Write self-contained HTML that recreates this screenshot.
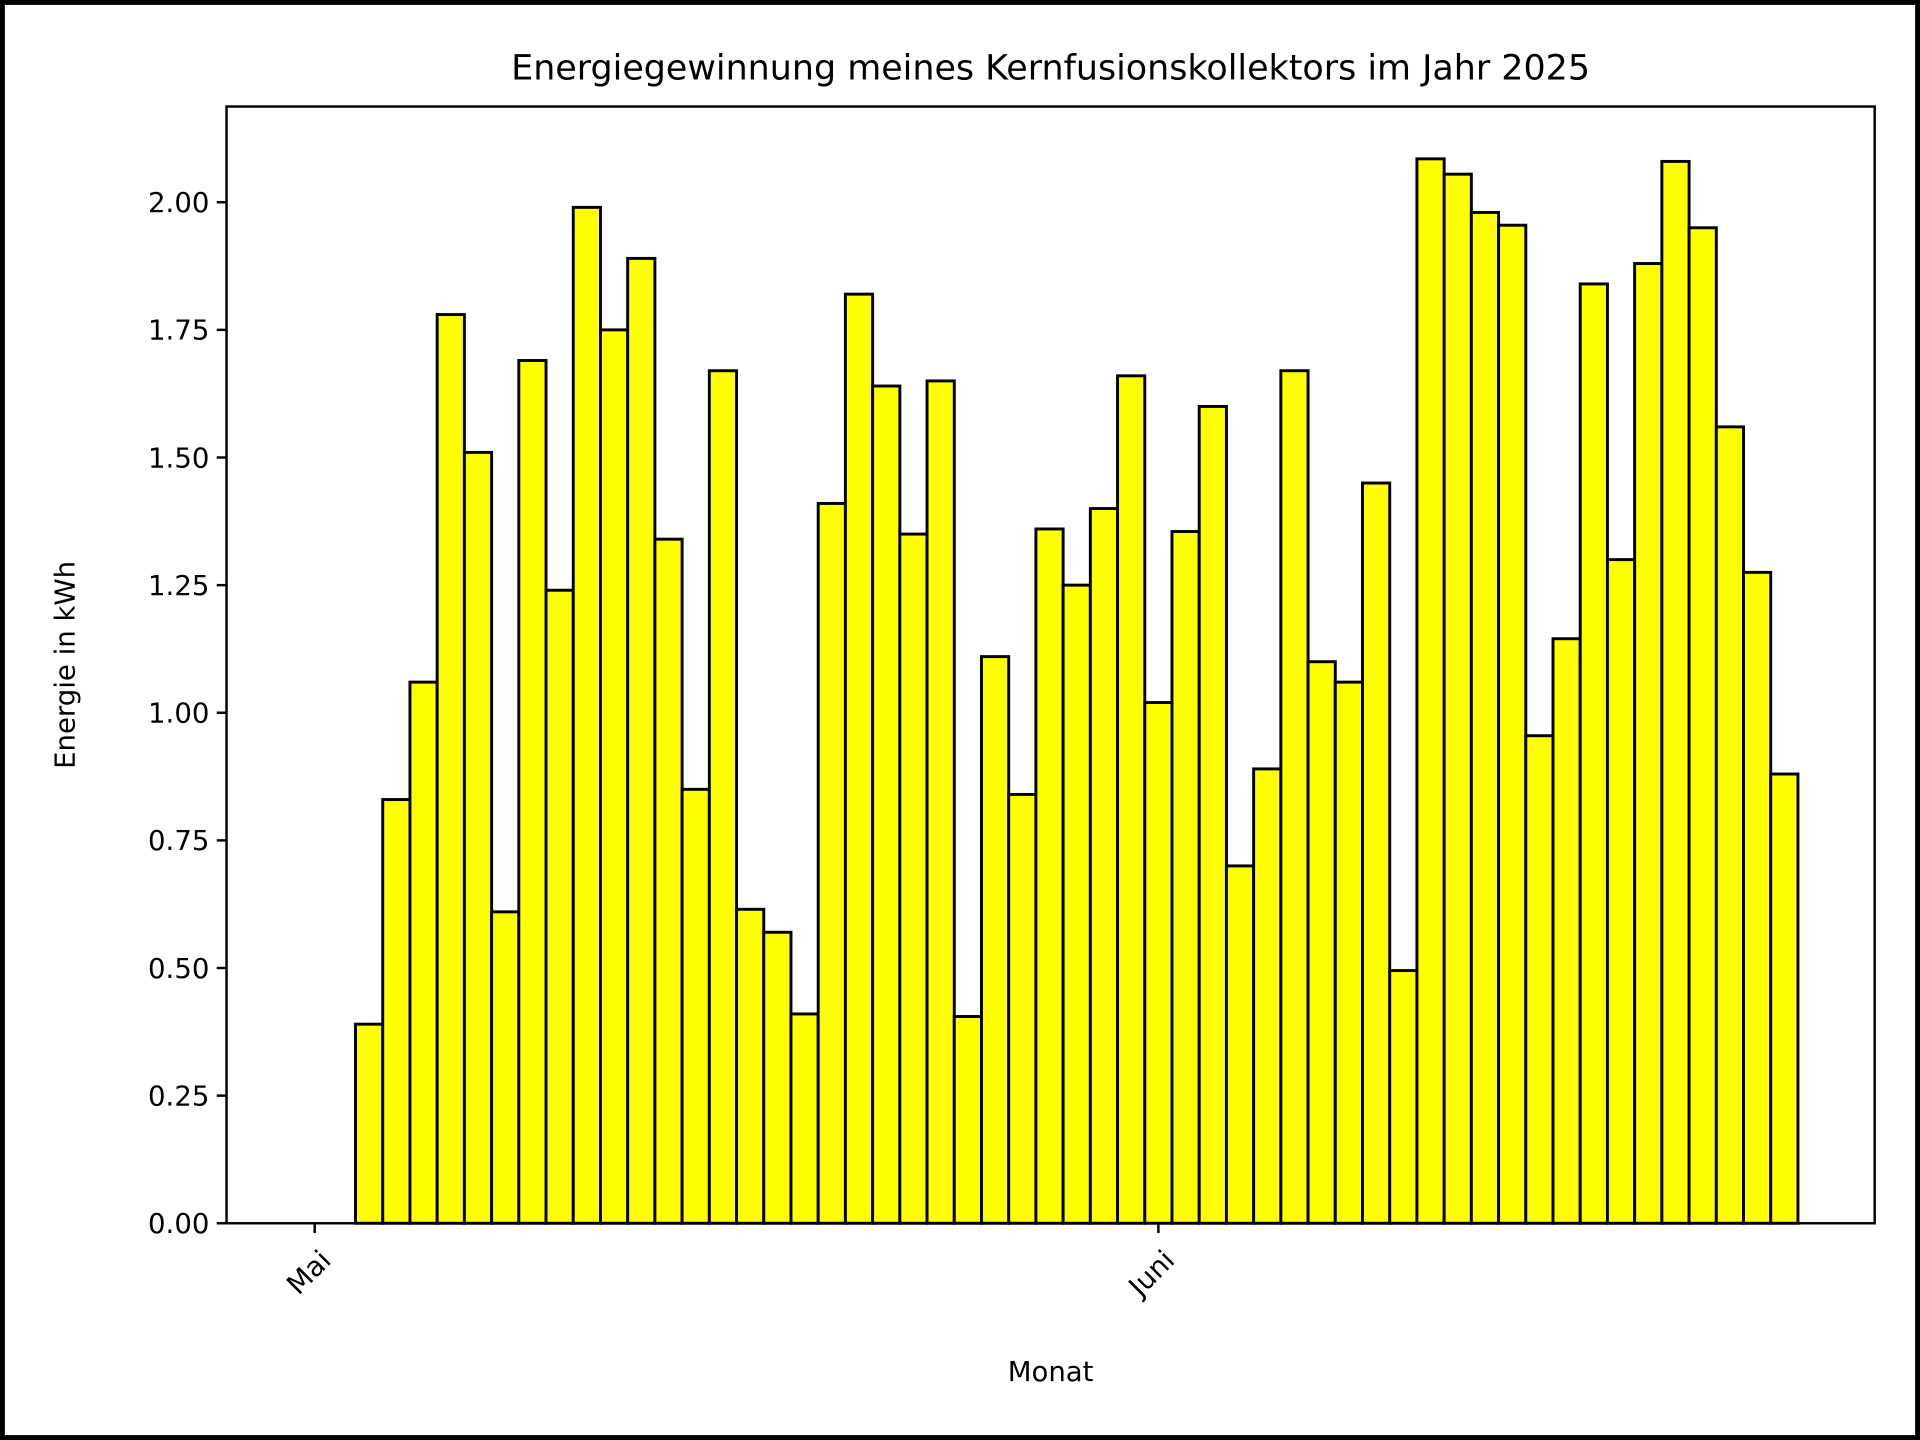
<!DOCTYPE html>
<html><head><meta charset="utf-8"><style>
html,body{margin:0;padding:0;background:#fff;}
svg{display:block;}
text{font-family:"DejaVu Sans","Liberation Sans",sans-serif;fill:#000;}
</style></head><body>
<svg id="chart" width="1920" height="1440" viewBox="0 0 1568 1176" xmlns="http://www.w3.org/2000/svg">
<rect x="2" y="2" width="1564" height="1172" fill="#fff" stroke="#000" stroke-width="4"/>
<text x="858" y="65" font-size="28.5" text-anchor="middle">Energiegewinnung meines Kernfusionskollektors im Jahr 2025</text>
<g id="bars"></g>
<g id="yticks"></g>
<g id="xticks"></g>
<rect x="185" y="87" width="1346" height="912" fill="none" stroke="#000" stroke-width="2"/>
<text transform="translate(61,543) rotate(-90)" font-size="22.5" text-anchor="middle">Energie in kWh</text>
<text x="858" y="1128" font-size="22.5" text-anchor="middle">Monat</text>
</svg>
<script>
const values = [0,0,0.39,0.83,1.06,1.78,1.51,0.61,1.69,1.24,1.99,1.75,1.89,1.34,0.85,1.67,0.615,0.57,0.41,1.41,1.82,1.64,1.35,1.65,0.405,1.11,0.84,1.36,1.25,1.40,1.66,1.02,1.355,1.60,0.70,0.89,1.67,1.10,1.06,1.45,0.495,2.085,2.055,1.98,1.955,0.955,1.145,1.84,1.30,1.88,2.08,1.95,1.56,1.275,0.88];
const yTicks = [0,0.25,0.5,0.75,1.0,1.25,1.5,1.75,2.0];
const yTickLabels = ["0.00","0.25","0.50","0.75","1.00","1.25","1.50","1.75","2.00"];
const xTickDays = [0,31];
const xTickLabels = ["Mai","Juni"];
const NS="http://www.w3.org/2000/svg";
const x0=185,x1=1531,yTop=87,yBot=999;
const dayMin=-3.24, dayMax=57.32;
const yMax=2.1875;
function xs(d){return x0+(d-dayMin)/(dayMax-dayMin)*(x1-x0);}
function ys(v){return yBot-v/yMax*(yBot-yTop);}
const bw=xs(1)-xs(0);
const bars=document.getElementById('bars');
values.forEach((v,i)=>{
  const r=document.createElementNS(NS,'rect');
  r.setAttribute('x',xs(i)-bw/2);
  r.setAttribute('y',ys(v));
  r.setAttribute('width',bw);
  r.setAttribute('height',Math.max(0,yBot-ys(v)));
  r.setAttribute('fill','#ffff00');
  r.setAttribute('stroke','#000');
  r.setAttribute('stroke-width','2.4');
  
  
  bars.appendChild(r);
});
const yg=document.getElementById('yticks');
yTicks.forEach((t,i)=>{
  const y=ys(t);
  const l=document.createElementNS(NS,'line');
  l.setAttribute('x1',x0-8);l.setAttribute('x2',x0);l.setAttribute('y1',y);l.setAttribute('y2',y);
  l.setAttribute('stroke','#000');l.setAttribute('stroke-width','2');
  
  
  yg.appendChild(l);
  const tx=document.createElementNS(NS,'text');
  tx.setAttribute('x',x0-14);tx.setAttribute('y',y+8);
  tx.setAttribute('font-size','22.5');tx.setAttribute('text-anchor','end');
  tx.textContent=yTickLabels[i];
  
  
  yg.appendChild(tx);
});
const xg=document.getElementById('xticks');
xTickDays.forEach((d,i)=>{
  const x=xs(d);
  const l=document.createElementNS(NS,'line');
  l.setAttribute('x1',x);l.setAttribute('x2',x);l.setAttribute('y1',yBot);l.setAttribute('y2',yBot+8);
  l.setAttribute('stroke','#000');l.setAttribute('stroke-width','2');
  
  
  xg.appendChild(l);
  const tx=document.createElementNS(NS,'text');
  tx.setAttribute('transform','translate('+(x+3)+','+(yBot+20)+') rotate(-45)');
  tx.setAttribute('font-size','22.5');tx.setAttribute('text-anchor','end');
  tx.setAttribute('dominant-baseline','hanging');
  tx.textContent=xTickLabels[i];
  
  
  xg.appendChild(tx);
});
</script>
</body></html>
